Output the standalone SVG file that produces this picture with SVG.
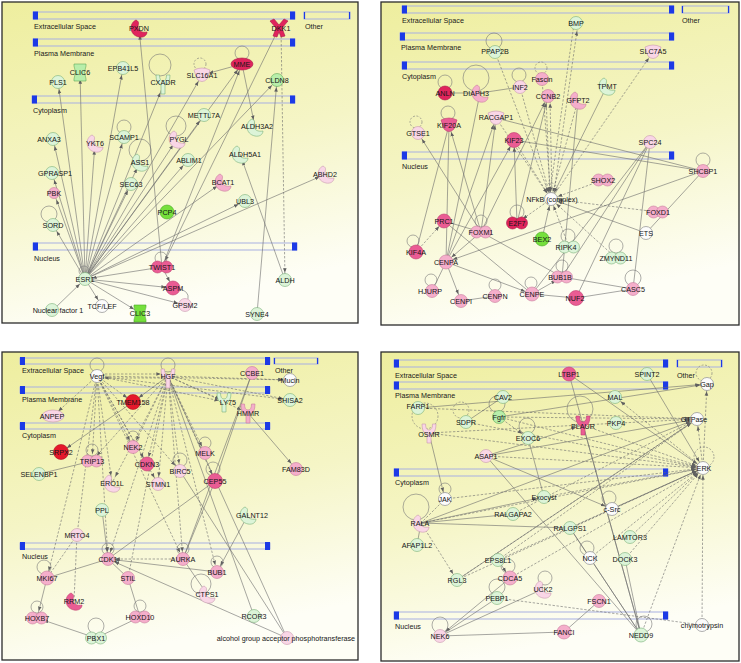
<svg xmlns="http://www.w3.org/2000/svg" xmlns:xlink="http://www.w3.org/1999/xlink" width="741" height="663" viewBox="0 0 741 663">
<defs>
<linearGradient id="bg" x1="0" y1="0" x2="0.25" y2="1">
<stop offset="0" stop-color="#eeee9e"/><stop offset="0.55" stop-color="#f5f5c6"/><stop offset="1" stop-color="#fefef6"/>
</linearGradient>
<marker id="ar" viewBox="0 0 10 10" refX="26" refY="5" markerWidth="4.5" markerHeight="4.5" markerUnits="userSpaceOnUse" orient="auto"><path d="M0,1L10,5L0,9z" fill="#606060"/></marker>
<path id="cres" d="M-3,-8 C-10,-5 -10,7 0,9 C5,10 8,7 8,4 C3,5 -1,3 -1,-1 C-1,-4 1,-6 -3,-8 Z"/>
<path id="cyl" d="M-6,-8 H6 V-6 Q3,0 6,7 V9 H-6 V7 Q-3,0 -6,-6 Z"/>
<path id="rec" d="M-7,-9 H-3.5 Q-3.5,-3 0,-3 Q3.5,-3 3.5,-9 H7 Q7,0 2,1 V10 H-2 V1 Q-7,0 -7,-9 Z"/>
<path id="trans" d="M-8,-5 Q0,-9 8,-5 L5,4 Q0,9 -5,4 Z"/>
<g id="dbl"><circle cx="-4.5" cy="0" r="6"/><circle cx="4.5" cy="0" r="6"/></g>
<path id="dkk" d="M-9,-7 L-5,-9 L0,-3 L5,-9 L9,-7 L3,0 L6,8 L2,9 L0,4 L-2,9 L-6,8 L-3,0 Z"/>
</defs>
<style>
.pan{fill:url(#bg);stroke:#2b2b2b;stroke-width:1.3}
.bar{fill:none;stroke:#a7afe2;stroke-width:1}
.cap{fill:#1c3ae6}
.oth{stroke:#1c3ae6;stroke-width:1.2}
.cl{font-family:"Liberation Sans",Arial,sans-serif;font-size:7.2px;fill:#1a1a1a}
.n{font-family:"Liberation Sans",Arial,sans-serif;font-size:7.2px;fill:#151515;text-anchor:middle}
.e{stroke:#6c6c6c;stroke-width:0.6;fill:none}
.d{stroke:#6c6c6c;stroke-width:0.6;fill:none;stroke-dasharray:2.4 1.6}
.a{marker-end:url(#ar)}
.lo{stroke:#777;stroke-width:0.6;fill:none}
.ld{stroke:#777;stroke-width:0.6;fill:none;stroke-dasharray:2 1.5}
.R{fill:#e5192b;stroke:#b01020;stroke-width:.6}
.M{fill:#e0245c;stroke:#a81848;stroke-width:.6}
.D{fill:#ea5c94;stroke:#c0406e;stroke-width:.6}
.P{fill:#f5aecb;stroke:#c87c9c;stroke-width:.6}
.L{fill:#f9d6e6;stroke:#c898ae;stroke-width:.6}
.G{fill:#76e03c;stroke:#48a826;stroke-width:.6}
.H{fill:#b8eeaa;stroke:#5ea858;stroke-width:.6}
.Q{fill:#dcf4d8;stroke:#78b078;stroke-width:.6}
.W{fill:#fcfcfc;stroke:#9a9a9a;stroke-width:.8}
</style>

<!-- Panels and compartments -->
<g id="panels">
<rect class="pan" x="2" y="2" width="356" height="321"/>
<rect class="pan" x="381" y="2" width="358" height="323"/>
<rect class="pan" x="2" y="352" width="356" height="308"/>
<rect class="pan" x="381" y="352" width="358" height="309"/>
</g>
<g id="compartments">
<!-- P1 -->
<rect class="bar" x="33" y="12" width="262" height="7"/><rect class="cap" x="33" y="11.5" width="5" height="8"/><rect class="cap" x="290" y="11.5" width="5" height="8"/>
<text class="cl" x="34" y="28.5">Extracellular Space</text>
<rect class="bar" x="304" y="12" width="46" height="7"/><line class="oth" x1="304.5" y1="12" x2="304.5" y2="19"/><line class="oth" x1="349.5" y1="12" x2="349.5" y2="19"/>
<text class="cl" x="305" y="28.5">Other</text>
<rect class="bar" x="33" y="39" width="262" height="7"/><rect class="cap" x="33" y="38.5" width="5" height="8"/><rect class="cap" x="290" y="38.5" width="5" height="8"/>
<text class="cl" x="34" y="55.5">Plasma Membrane</text>
<rect class="bar" x="32" y="96" width="263" height="7"/><rect class="cap" x="32" y="95.5" width="5" height="8"/><rect class="cap" x="290" y="95.5" width="5" height="8"/>
<text class="cl" x="33" y="112.5">Cytoplasm</text>
<rect class="bar" x="33" y="243" width="264" height="7"/><rect class="cap" x="33" y="242.5" width="5" height="8"/><rect class="cap" x="292" y="242.5" width="5" height="8"/>
<text class="cl" x="34" y="260.5">Nucleus</text>
<!-- P2 -->
<rect class="bar" x="402" y="6" width="272" height="7"/><rect class="cap" x="402" y="5.5" width="5" height="8"/><rect class="cap" x="669" y="5.5" width="5" height="8"/>
<text class="cl" x="402" y="23">Extracellular Space</text>
<rect class="bar" x="682" y="6" width="47" height="7"/><line class="oth" x1="682.5" y1="6" x2="682.5" y2="13"/><line class="oth" x1="728.5" y1="6" x2="728.5" y2="13"/>
<text class="cl" x="682" y="23">Other</text>
<rect class="bar" x="400" y="33" width="274" height="7"/><rect class="cap" x="400" y="32.5" width="5" height="8"/><rect class="cap" x="669" y="32.5" width="5" height="8"/>
<text class="cl" x="401" y="50">Plasma Membrane</text>
<rect class="bar" x="402" y="62" width="272" height="7"/><rect class="cap" x="402" y="61.5" width="5" height="8"/><rect class="cap" x="669" y="61.5" width="5" height="8"/>
<text class="cl" x="402" y="78.5">Cytoplasm</text>
<rect class="bar" x="402" y="152" width="272" height="7"/><rect class="cap" x="402" y="151.5" width="5" height="8"/><rect class="cap" x="669" y="151.5" width="5" height="8"/>
<text class="cl" x="402" y="168.5">Nucleus</text>
<!-- P3 -->
<rect class="bar" x="20" y="358" width="250" height="6"/><rect class="cap" x="20" y="357" width="5" height="8"/><rect class="cap" x="265" y="357" width="5" height="8"/>
<text class="cl" x="22" y="373">Extracellular Space</text>
<rect class="bar" x="274" y="358" width="44" height="6"/><line class="oth" x1="274.5" y1="358" x2="274.5" y2="364"/><line class="oth" x1="317.5" y1="358" x2="317.5" y2="364"/>
<text class="cl" x="275" y="373">Other</text>
<rect class="bar" x="20" y="387" width="250" height="6"/><rect class="cap" x="20" y="386" width="5" height="8"/><rect class="cap" x="265" y="386" width="5" height="8"/>
<text class="cl" x="22" y="401.5">Plasma Membrane</text>
<rect class="bar" x="20" y="423" width="250" height="6"/><rect class="cap" x="20" y="422" width="5" height="8"/><rect class="cap" x="265" y="422" width="5" height="8"/>
<text class="cl" x="22" y="437.5">Cytoplasm</text>
<rect class="bar" x="20" y="543" width="250" height="6"/><rect class="cap" x="20" y="542" width="5" height="8"/><rect class="cap" x="265" y="542" width="5" height="8"/>
<text class="cl" x="22" y="558.5">Nucleus</text>
<!-- P4 -->
<rect class="bar" x="394" y="360" width="274" height="7"/><rect class="cap" x="394" y="359.5" width="5" height="8"/><rect class="cap" x="663" y="359.5" width="5" height="8"/>
<text class="cl" x="395" y="377.5">Extracellular Space</text>
<rect class="bar" x="677" y="360" width="45" height="7"/><line class="oth" x1="677.5" y1="360" x2="677.5" y2="367"/><line class="oth" x1="721.5" y1="360" x2="721.5" y2="367"/>
<text class="cl" x="677" y="377.5">Other</text>
<rect class="bar" x="394" y="382" width="274" height="7"/><rect class="cap" x="394" y="381.5" width="5" height="8"/><rect class="cap" x="663" y="381.5" width="5" height="8"/>
<text class="cl" x="395" y="397.5">Plasma Membrane</text>
<rect class="bar" x="394" y="469" width="274" height="7"/><rect class="cap" x="394" y="468.5" width="5" height="8"/><rect class="cap" x="663" y="468.5" width="5" height="8"/>
<text class="cl" x="395" y="485">Cytoplasm</text>
<rect class="bar" x="394" y="612" width="274" height="7"/><rect class="cap" x="394" y="611.5" width="5" height="8"/><rect class="cap" x="663" y="611.5" width="5" height="8"/>
<text class="cl" x="395" y="628.5">Nucleus</text>
</g>

<g id="connectors">
<!-- Panel 1 -->
<path class="e a" d="M85,279 L58,82"/><path class="e a" d="M85,279 L80,72"/><path class="e a" d="M85,279 L123,68"/>
<path class="e a" d="M85,279 L163,86"/><path class="e a" d="M85,279 L202,75"/><path class="e a" d="M85,279 L242,64"/>
<path class="e a" d="M85,279 L277,80"/><path class="e a" d="M85,279 L204,115"/><path class="e a" d="M85,279 L53,139"/>
<path class="e a" d="M85,279 L95,143"/><path class="e a" d="M85,279 L124,137"/><path class="e a" d="M85,279 L177,139"/>
<path class="e a" d="M85,279 L140,162"/><path class="e a" d="M85,279 L188,160"/><path class="e a" d="M85,279 L52,173"/>
<path class="e a" d="M85,279 L54,193"/><path class="e a" d="M85,279 L131,184"/><path class="e a" d="M85,279 L223,182"/>
<path class="e a" d="M85,279 L326,174"/><path class="e a" d="M85,279 L245,201"/><path class="e a" d="M85,279 L53,225"/>
<path class="e a" d="M85,279 L102,306"/><path class="e a" d="M85,279 L140,313"/><path class="e a" d="M85,279 L185,305"/>
<path class="e a" d="M85,279 L173,288"/><path class="e a" d="M162,267 L85,279"/><path class="e a" d="M53,310 L85,279"/>
<path class="e a" d="M162,267 L139,28"/><path class="e a" d="M162,267 L242,64"/><path class="e a" d="M162,267 L173,288"/>
<path class="e a" d="M279,28 L162,267"/><path class="d a" d="M281,28 L285,280"/>
<path class="e a" d="M242,64 L202,75"/><path class="e a" d="M242,64 L255,127"/>
<path class="e a" d="M285,280 L240,154"/><path class="e a" d="M257,314 L277,80"/>
<path class="e" d="M173,288 Q195,290 185,305"/>
<circle class="lo" cx="160" cy="65" r="11"/><circle class="ld" cx="200" cy="64" r="6"/>
<circle class="lo" cx="242" cy="53" r="7"/><circle class="lo" cx="124" cy="127" r="7"/>
<circle class="lo" cx="176" cy="126" r="10"/><circle class="lo" cx="140" cy="150" r="11"/>
<circle class="lo" cx="49" cy="214" r="8"/><circle class="lo" cx="161" cy="258" r="6"/>
<circle class="lo" cx="84" cy="271" r="5"/>

<!-- Panel 2 -->
<path class="d a" d="M574,24 L549,199"/><path class="d a" d="M553,199 L578,24"/>
<path class="d a" d="M495,52 L551,199"/><path class="d a" d="M520,87 L551,199"/>
<path class="d a" d="M542,79 L551,199"/><path class="d a" d="M546,96 L550,199"/><path class="d a" d="M552,199 L550,96"/>
<path class="d a" d="M578,100 L551,199"/><path class="e a" d="M607,86 L551,199"/><path class="d a" d="M551,199 L653,52"/>
<path class="d a" d="M603,180 L551,199"/><path class="d a" d="M658,212 L551,199"/><path class="d a" d="M569,247 L551,199"/>
<path class="d a" d="M551,199 L517,223"/><path class="d a" d="M496,118 L551,199"/><path class="d a" d="M514,140 L551,199"/>
<path class="d a" d="M616,258 L551,199"/>
<path class="e a" d="M646,233 L551,199"/><path class="e a" d="M542,239 L551,199"/>
<path class="e" d="M445,93 L480,93"/><path class="e" d="M480,93 L520,87"/>
<path class="e" d="M496,118 L703,171"/><path class="e" d="M514,140 L703,171"/>
<path class="e" d="M650,142 L633,289"/><path class="e" d="M650,142 L576,298"/><path class="e" d="M650,142 L562,277"/><path class="e" d="M650,142 L532,294"/>
<path class="e a" d="M703,171 L446,262"/><path class="e" d="M703,171 L646,233"/>
<path class="d a" d="M416,252 L444,221"/><path class="e" d="M444,221 L532,294"/><path class="e" d="M444,221 L481,232"/>
<path class="e a" d="M481,232 L446,262"/><path class="e" d="M481,232 L562,277"/><path class="e a" d="M481,232 L418,133"/>
<path class="e a" d="M481,232 L496,118"/><path class="e a" d="M481,232 L548,96"/><path class="e a" d="M481,232 L449,125"/>
<path class="e a" d="M517,223 L514,140"/><path class="e a" d="M517,223 L548,96"/>
<path class="e" d="M446,262 L480,93"/><path class="e a" d="M446,262 L496,118"/><path class="e a" d="M446,262 L514,140"/>
<path class="e a" d="M446,262 L461,301"/><path class="e" d="M446,262 L432,291"/><path class="e a" d="M446,262 L532,294"/>
<path class="e" d="M495,296 L461,301"/><path class="e a" d="M532,294 L562,277"/><path class="e" d="M532,294 L576,298"/>
<path class="e" d="M576,298 L633,289"/><path class="e" d="M562,277 L633,289"/><path class="e" d="M449,125 L416,252"/>
<path class="e" d="M449,125 L446,262"/><path class="e" d="M578,100 L562,277"/>
<circle class="lo" cx="494" cy="41" r="8"/><circle class="lo" cx="445" cy="82" r="7"/>
<circle class="lo" cx="476" cy="78" r="13"/><circle class="lo" cx="519" cy="75" r="7"/>
<circle class="ld" cx="541" cy="68" r="6"/><circle class="lo" cx="448" cy="113" r="7"/>
<circle class="ld" cx="416" cy="122" r="6"/><circle class="ld" cx="551" cy="189" r="6"/>
<circle class="lo" cx="481" cy="221" r="6"/><circle class="lo" cx="517" cy="212" r="7"/>
<circle class="lo" cx="568" cy="236" r="7"/><circle class="lo" cx="616" cy="246" r="7"/>
<circle class="lo" cx="413" cy="241" r="6"/><circle class="lo" cx="562" cy="266" r="6"/>
<circle class="lo" cx="531" cy="283" r="6"/><circle class="lo" cx="495" cy="285" r="6"/>
<circle class="lo" cx="431" cy="280" r="6"/><circle class="lo" cx="633" cy="278" r="8"/>
<circle class="lo" cx="703" cy="160" r="7"/>

<!-- Panel 3 -->
<path class="d a" d="M97,376 L53,416"/><path class="d a" d="M97,376 L133,402"/><path class="d a" d="M97,376 L133,447"/>
<path class="d a" d="M97,376 L92,461"/><path class="d a" d="M97,376 L147,464"/><path class="d a" d="M97,376 L158,484"/>
<path class="d a" d="M97,376 L108,559"/><path class="d a" d="M97,376 L183,559"/><path class="d a" d="M97,376 L47,578"/>
<path class="d a" d="M97,376 L180,471"/><path class="d a" d="M97,376 L112,483"/><path class="d a" d="M97,376 L226,402"/>
<path class="d a" d="M97,376 L290,400"/><path class="d a" d="M97,376 L290,380"/><path class="d a" d="M97,374 L168,374"/><path class="d a" d="M168,378 L97,378"/>
<path class="e a" d="M168,376 L133,402"/><path class="d a" d="M168,376 L133,447"/><path class="d a" d="M168,376 L147,464"/>
<path class="d a" d="M168,376 L205,453"/><path class="d a" d="M168,376 L180,471"/><path class="d a" d="M168,376 L158,484"/>
<path class="d a" d="M168,376 L108,559"/><path class="d a" d="M168,376 L183,559"/><path class="d a" d="M168,376 L217,572"/>
<path class="d a" d="M168,376 L226,402"/><path class="d a" d="M168,376 L248,413"/><path class="d a" d="M168,376 L290,380"/>
<path class="d a" d="M168,376 L290,400"/><path class="d a" d="M168,376 L215,481"/><path class="d a" d="M168,376 L112,483"/>
<path class="d a" d="M168,376 L92,461"/>
<path class="e a" d="M133,402 L61,452"/><path class="e" d="M92,461 L39,474"/><path class="e a" d="M248,413 L296,469"/>
<path class="e" d="M252,373 L215,481"/><path class="e" d="M252,373 L183,559"/><path class="e" d="M215,481 L108,559"/>
<path class="e" d="M215,481 L183,559"/><path class="e" d="M108,559 L47,578"/><path class="e" d="M108,559 L128,578"/>
<path class="d a" d="M183,559 L108,559"/><path class="e a" d="M217,572 L108,559"/><path class="e a" d="M102,510 L108,559"/>
<path class="e a" d="M248,515 L217,572"/><path class="d" d="M77,535 L47,578"/><path class="d" d="M77,535 L74,601"/>
<path class="e a" d="M47,578 L37,618"/><path class="e a" d="M96,638 L37,618"/><path class="e" d="M96,638 L140,617"/>
<path class="e" d="M140,617 L128,578"/><path class="e" d="M207,594 L183,559"/><path class="e a" d="M287,638 L108,559"/>
<path class="e" d="M287,638 L168,376"/><path class="e" d="M254,616 L168,376"/><path class="e" d="M287,638 L180,471"/>
<path class="d" d="M128,578 L168,376"/><path class="d" d="M77,535 L97,376"/>
<circle class="lo" cx="97" cy="365" r="7"/><circle class="lo" cx="168" cy="365" r="7"/>
<circle class="lo" cx="133" cy="437" r="6"/><circle class="lo" cx="205" cy="443" r="6"/>
<circle class="lo" cx="92" cy="450" r="6"/><circle class="lo" cx="180" cy="460" r="7"/>
<circle class="lo" cx="213" cy="469" r="7"/><circle class="lo" cx="108" cy="549" r="6"/>
<circle class="lo" cx="183" cy="549" r="6"/><circle class="lo" cx="217" cy="562" r="6"/>
<circle class="lo" cx="44" cy="567" r="7"/><circle class="lo" cx="37" cy="607" r="6"/>
<circle class="lo" cx="140" cy="606" r="6"/><circle class="lo" cx="96" cy="626" r="8"/>
<circle class="lo" cx="201" cy="584" r="10"/>

<!-- Panel 4 -->
<path class="d a" d="M429,433 L703,468"/><path class="d a" d="M499,417 L703,468"/><path class="d a" d="M583,425 L703,468"/>
<path class="d a" d="M486,456 L703,468"/><path class="d a" d="M445,499 L703,468"/><path class="d a" d="M544,497 L703,468"/>
<path class="d a" d="M612,509 L703,468"/><path class="d a" d="M570,528 L703,468"/><path class="d a" d="M630,537 L703,468"/>
<path class="d a" d="M625,559 L703,468"/><path class="d a" d="M590,558 L703,468"/><path class="d a" d="M498,560 L703,468"/>
<path class="d a" d="M510,578 L703,468"/><path class="d a" d="M457,580 L703,468"/><path class="d a" d="M641,635 L703,468"/>
<path class="d a" d="M702,625 L703,468"/><path class="d a" d="M703,468 L707,384"/><path class="d a" d="M703,468 L697,419"/>
<path class="d a" d="M703,468 L615,397"/><path class="e a" d="M647,374 L703,468"/><path class="e a" d="M569,374 L703,468"/>
<path class="d a" d="M421,523 L703,468"/><path class="d a" d="M466,422 L703,468"/>
<path class="d a" d="M418,408 L697,419"/><path class="d a" d="M429,433 L697,419"/><path class="d a" d="M499,417 L697,419"/>
<path class="e a" d="M486,456 L697,419"/><path class="e a" d="M421,523 L697,419"/><path class="d a" d="M457,580 L697,419"/>
<path class="d a" d="M498,560 L697,419"/><path class="d a" d="M513,514 L697,419"/>
<path class="e a" d="M418,408 L707,384"/><path class="e a" d="M499,417 L707,384"/>
<path class="e" d="M503,397 L466,422"/><path class="d a" d="M499,417 L528,438"/><path class="e" d="M528,438 L544,497"/>
<path class="e a" d="M429,433 L445,499"/><path class="d" d="M445,499 L421,523"/><path class="e a" d="M421,523 L544,497"/>
<path class="e" d="M421,523 L513,514"/><path class="e" d="M421,523 L570,528"/><path class="e" d="M421,523 L417,545"/>
<path class="d a" d="M421,523 L457,580"/><path class="e" d="M486,456 L641,635"/><path class="e a" d="M486,456 L583,425"/>
<path class="e a" d="M486,456 L612,509"/><path class="e" d="M543,589 L440,636"/><path class="e" d="M440,636 L564,632"/>
<path class="e" d="M564,632 L599,601"/><path class="e" d="M641,635 L590,558"/><path class="e" d="M641,635 L625,559"/>
<path class="e" d="M641,635 L570,528"/><path class="d" d="M497,598 L702,625"/><path class="e" d="M497,598 L440,636"/>
<path class="e a" d="M510,578 L440,636"/><path class="e a" d="M498,560 L510,578"/><path class="e" d="M590,558 L570,528"/>
<path class="e" d="M583,425 L641,635"/><path class="e" d="M569,374 L641,635"/><path class="e" d="M457,580 L697,419"/>
<circle class="ld" cx="704" cy="373" r="8"/><circle class="ld" cx="461" cy="410" r="8"/>
<circle class="lo" cx="497" cy="404" r="8"/><circle class="lo" cx="580" cy="409" r="13"/>
<circle class="ld" cx="425" cy="416" r="13"/><circle class="lo" cx="527" cy="426" r="8"/>
<circle class="ld" cx="704" cy="457" r="10"/><circle class="lo" cx="445" cy="489" r="6"/>
<circle class="lo" cx="609" cy="498" r="7"/><circle class="lo" cx="416" cy="507" r="13"/>
<circle class="lo" cx="587" cy="548" r="7"/><circle class="lo" cx="508" cy="566" r="7"/>
<circle class="lo" cx="545" cy="578" r="7"/><circle class="lo" cx="497" cy="587" r="8"/>
<circle class="lo" cx="440" cy="625" r="8"/><circle class="lo" cx="644" cy="624" r="8"/>
</g>

<!-- Panel 1 nodes -->
<g id="n1-PXDN"><use href="#cres" class="M" x="139" y="28"/><text class="n" x="139" y="30.5">PXDN</text></g>
<g id="n1-DKK1"><use href="#dkk" class="M" x="279" y="28"/><text class="n" x="281" y="30.5">DKK1</text></g>
<g id="n1-PLS1"><circle class="Q" cx="58" cy="82" r="6.5"/><text class="n" x="58" y="84.5">PLS1</text></g>
<g id="n1-CLIC6"><use href="#cyl" class="H" x="80" y="72"/><text class="n" x="80" y="74.5">CLIC6</text></g>
<g id="n1-EPB41L5"><circle class="Q" cx="123" cy="68" r="6.5"/><text class="n" x="123" y="70.5">EPB41L5</text></g>
<g id="n1-CXADR"><use href="#rec" class="Q" x="163" y="84"/><text class="n" x="163" y="84.5">CXADR</text></g>
<g id="n1-SLC16A1"><use href="#trans" class="L" x="202" y="75"/><text class="n" x="202" y="77.5">SLC16A1</text></g>
<g id="n1-MME"><ellipse class="M" cx="242" cy="64" rx="11" ry="6"/><text class="n" x="242" y="66.5">MME</text></g>
<g id="n1-CLDN8"><circle class="H" cx="277" cy="80" r="6.5"/><text class="n" x="277" y="82.5">CLDN8</text></g>
<g id="n1-METTL7A"><circle class="Q" cx="204" cy="115" r="6.5"/><text class="n" x="204" y="117.5">METTL7A</text></g>
<g id="n1-ANXA3"><circle class="Q" cx="53" cy="139" r="6.5"/><text class="n" x="49" y="142">ANXA3</text></g>
<g id="n1-YKT6"><use href="#cres" class="L" x="95" y="143"/><text class="n" x="95" y="145.5">YKT6</text></g>
<g id="n1-SCAMP1"><circle class="Q" cx="124" cy="137" r="6.5"/><text class="n" x="124" y="139.5">SCAMP1</text></g>
<g id="n1-PYGL"><use href="#cres" class="L" x="177" y="139"/><text class="n" x="179" y="141.5">PYGL</text></g>
<g id="n1-ALDH3A2"><use href="#cres" class="Q" x="255" y="127"/><text class="n" x="257" y="128.5">ALDH3A2</text></g>
<g id="n1-ASS1"><use href="#cres" class="Q" x="140" y="162"/><text class="n" x="140" y="164.5">ASS1</text></g>
<g id="n1-ABLIM1"><circle class="Q" cx="188" cy="160" r="6.5"/><text class="n" x="189" y="162.5">ABLIM1</text></g>
<g id="n1-ALDH5A1"><use href="#cres" class="Q" x="240" y="154"/><text class="n" x="245" y="156.5">ALDH5A1</text></g>
<g id="n1-GPRASP1"><circle class="Q" cx="52" cy="173" r="6.5"/><text class="n" x="55" y="175.5">GPRASP1</text></g>
<g id="n1-PBK"><circle class="P" cx="54" cy="193" r="5.5"/><text class="n" x="54" y="195.5">PBK</text></g>
<g id="n1-SEC63"><circle class="Q" cx="131" cy="184" r="6.5"/><text class="n" x="131" y="186.5">SEC63</text></g>
<g id="n1-BCAT1"><use href="#cres" class="P" x="223" y="182"/><text class="n" x="223" y="184.5">BCAT1</text></g>
<g id="n1-ABHD2"><use href="#cres" class="L" x="326" y="174"/><text class="n" x="325" y="176.5">ABHD2</text></g>
<g id="n1-UBL3"><circle class="Q" cx="245" cy="201" r="6.5"/><text class="n" x="245" y="203.5">UBL3</text></g>
<g id="n1-PCP4"><circle class="G" cx="167" cy="212" r="7"/><text class="n" x="167" y="214.5">PCP4</text></g>
<g id="n1-SORD"><circle class="Q" cx="53" cy="225" r="6.5"/><text class="n" x="53" y="227.5">SORD</text></g>
<g id="n1-TWIST1"><use href="#dbl" class="D" x="162" y="267"/><text class="n" x="162" y="269.5">TWIST1</text></g>
<g id="n1-ESR1"><circle class="Q" cx="85" cy="279" r="6.5"/><text class="n" x="85" y="281.5">ESR1</text></g>
<g id="n1-ALDH"><circle class="Q" cx="285" cy="280" r="6.5"/><text class="n" x="285" y="282.5">ALDH</text></g>
<g id="n1-ASPM"><circle class="D" cx="173" cy="288" r="7"/><text class="n" x="173" y="290.5">ASPM</text></g>
<g id="n1-GPSM2"><circle class="L" cx="185" cy="305" r="6.5"/><text class="n" x="185" y="307.5">GPSM2</text></g>
<g id="n1-NF1"><circle class="Q" cx="52" cy="310" r="6.5"/><text class="n" x="58" y="313">Nuclear factor 1</text></g>
<g id="n1-TCFLEF"><circle class="W" cx="102" cy="306" r="6.5"/><text class="n" x="102" y="308.5">TCF/LEF</text></g>
<g id="n1-CLIC3"><use href="#cyl" class="G" x="140" y="313"/><text class="n" x="140" y="315.5">CLIC3</text></g>
<g id="n1-SYNE4"><circle class="Q" cx="257" cy="314" r="6.5"/><text class="n" x="257" y="316.5">SYNE4</text></g>

<!-- Panel 2 nodes -->
<g id="n2-BMP"><circle class="Q" cx="576" cy="23" r="6.5"/><text class="n" x="576" y="25.5">BMP</text></g>
<g id="n2-PPAP2B"><circle class="Q" cx="495" cy="52" r="6.5"/><text class="n" x="495" y="53.5">PPAP2B</text></g>
<g id="n2-SLC7A5"><use href="#trans" class="L" x="653" y="52"/><text class="n" x="653" y="53.5">SLC7A5</text></g>
<g id="n2-ANLN"><circle class="M" cx="445" cy="93" r="7"/><text class="n" x="445" y="95.5">ANLN</text></g>
<g id="n2-DIAPH3"><use href="#cres" class="P" x="480" y="93"/><text class="n" x="476" y="95.5">DIAPH3</text></g>
<g id="n2-INF2"><circle class="L" cx="520" cy="87" r="6.5"/><text class="n" x="520" y="89.5">INF2</text></g>
<g id="n2-Fascin"><circle class="P" cx="542" cy="79" r="6.5"/><text class="n" x="542" y="81.5">Fascin</text></g>
<g id="n2-CCNB2"><circle class="P" cx="548" cy="96" r="6.5"/><text class="n" x="548" y="98.5">CCNB2</text></g>
<g id="n2-GFPT2"><use href="#cres" class="P" x="578" y="100"/><text class="n" x="578" y="102.5">GFPT2</text></g>
<g id="n2-TPMT"><use href="#cres" class="Q" x="607" y="86"/><text class="n" x="607" y="88.5">TPMT</text></g>
<g id="n2-RACGAP1"><use href="#trans" class="L" x="496" y="118"/><text class="n" x="496" y="120">RACGAP1</text></g>
<g id="n2-KIF20A"><use href="#trans" class="D" x="449" y="125"/><text class="n" x="449" y="127.5">KIF20A</text></g>
<g id="n2-GTSE1"><circle class="L" cx="418" cy="133" r="6.5"/><text class="n" x="418" y="135.5">GTSE1</text></g>
<g id="n2-KIF23"><circle class="D" cx="514" cy="140" r="7.5"/><text class="n" x="514" y="142.5">KIF23</text></g>
<g id="n2-SPC24"><circle class="L" cx="650" cy="142" r="6.5"/><text class="n" x="650" y="144.5">SPC24</text></g>
<g id="n2-SHCBP1"><circle class="P" cx="703" cy="171" r="6.5"/><text class="n" x="703" y="173.5">SHCBP1</text></g>
<g id="n2-SHOX2"><use href="#dbl" class="P" x="603" y="180"/><text class="n" x="603" y="182.5">SHOX2</text></g>
<g id="n2-NFkB"><circle class="W" cx="551" cy="199" r="6.5"/><text class="n" x="552" y="202">NFkB (complex)</text></g>
<g id="n2-FOXD1"><use href="#dbl" class="P" x="658" y="212"/><text class="n" x="658" y="214.5">FOXD1</text></g>
<g id="n2-PRC1"><circle class="D" cx="444" cy="221" r="7"/><text class="n" x="444" y="223.5">PRC1</text></g>
<g id="n2-E2F7"><use href="#dbl" class="M" x="517" y="223"/><text class="n" x="517" y="225.5">E2F7</text></g>
<g id="n2-FOXM1"><use href="#dbl" class="P" x="481" y="232"/><text class="n" x="481" y="234.5">FOXM1</text></g>
<g id="n2-ETS"><circle class="W" cx="646" cy="233" r="6.5"/><text class="n" x="646" y="235.5">ETS</text></g>
<g id="n2-BEX2"><circle class="G" cx="542" cy="239" r="7"/><text class="n" x="542" y="241.5">BEX2</text></g>
<g id="n2-RIPK4"><use href="#dbl" class="Q" x="569" y="247"/><text class="n" x="566" y="250">RIPK4</text></g>
<g id="n2-KIF4A"><circle class="D" cx="416" cy="252" r="7"/><text class="n" x="416" y="254.5">KIF4A</text></g>
<g id="n2-CENPA"><circle class="P" cx="446" cy="262" r="7"/><text class="n" x="446" y="264.5">CENPA</text></g>
<g id="n2-ZMYND11"><use href="#dbl" class="Q" x="616" y="258"/><text class="n" x="616" y="260.5">ZMYND11</text></g>
<g id="n2-BUB1B"><use href="#dbl" class="P" x="562" y="277"/><text class="n" x="560" y="279.5">BUB1B</text></g>
<g id="n2-HJURP"><circle class="P" cx="432" cy="291" r="6.5"/><text class="n" x="430" y="293.5">HJURP</text></g>
<g id="n2-CASC5"><circle class="P" cx="633" cy="289" r="6.5"/><text class="n" x="633" y="291.5">CASC5</text></g>
<g id="n2-CENPE"><circle class="P" cx="532" cy="294" r="7"/><text class="n" x="532" y="296.5">CENPE</text></g>
<g id="n2-CENPI"><circle class="P" cx="461" cy="301" r="6.5"/><text class="n" x="461" y="303.5">CENPI</text></g>
<g id="n2-CENPN"><circle class="P" cx="495" cy="296" r="6.5"/><text class="n" x="495" y="298.5">CENPN</text></g>
<g id="n2-NUF2"><circle class="D" cx="576" cy="298" r="7.5"/><text class="n" x="575" y="300.5">NUF2</text></g>

<!-- Panel 3 nodes -->
<g id="n3-Vegf"><circle class="W" cx="97" cy="376" r="6.5"/><text class="n" x="97" y="378.5">Vegf</text></g>
<g id="n3-HGF"><use href="#rec" class="L" x="168" y="378"/><text class="n" x="168" y="378.5">HGF</text></g>
<g id="n3-CCBE1"><circle class="P" cx="252" cy="373" r="6.5"/><text class="n" x="252" y="375.5">CCBE1</text></g>
<g id="n3-Mucin"><circle class="W" cx="290" cy="380" r="6.5"/><text class="n" x="290" y="382.5">Mucin</text></g>
<g id="n3-TMEM158"><circle class="R" cx="133" cy="402" r="7.5"/><text class="n" x="133" y="404.5">TMEM158</text></g>
<g id="n3-LY75"><use href="#rec" class="Q" x="224" y="402"/><text class="n" x="228" y="404.5">LY75</text></g>
<g id="n3-SHISA2"><circle class="Q" cx="290" cy="400" r="6.5"/><text class="n" x="290" y="402.5">SHISA2</text></g>
<g id="n3-ANPEP"><ellipse class="L" cx="53" cy="416" rx="11" ry="6"/><text class="n" x="52" y="418.5">ANPEP</text></g>
<g id="n3-HMMR"><use href="#rec" class="P" x="248" y="413"/><text class="n" x="248" y="415.5">HMMR</text></g>
<g id="n3-NEK2"><circle class="P" cx="133" cy="447" r="6.5"/><text class="n" x="133" y="449.5">NEK2</text></g>
<g id="n3-MELK"><circle class="P" cx="205" cy="453" r="6.5"/><text class="n" x="205" y="455.5">MELK</text></g>
<g id="n3-SRPX2"><circle class="R" cx="61" cy="452" r="7.5"/><text class="n" x="61" y="454.5">SRPX2</text></g>
<g id="n3-TRIP13"><use href="#dbl" class="P" x="92" y="461"/><text class="n" x="92" y="463.5">TRIP13</text></g>
<g id="n3-CDKN3"><circle class="D" cx="147" cy="464" r="7"/><text class="n" x="147" y="466.5">CDKN3</text></g>
<g id="n3-BIRC5"><circle class="L" cx="180" cy="471" r="6.5"/><text class="n" x="180" y="473.5">BIRC5</text></g>
<g id="n3-FAM83D"><circle class="P" cx="296" cy="469" r="6.5"/><text class="n" x="296" y="471.5">FAM83D</text></g>
<g id="n3-SELENBP1"><circle class="Q" cx="39" cy="474" r="6.5"/><text class="n" x="39" y="476.5">SELENBP1</text></g>
<g id="n3-ERO1L"><use href="#cres" class="L" x="112" y="483"/><text class="n" x="112" y="485.5">ERO1L</text></g>
<g id="n3-STMN1"><circle class="L" cx="158" cy="484" r="6.5"/><text class="n" x="158" y="486.5">STMN1</text></g>
<g id="n3-CEP55"><circle class="D" cx="215" cy="481" r="7.5"/><text class="n" x="215" y="483.5">CEP55</text></g>
<g id="n3-PPL"><circle class="Q" cx="102" cy="510" r="6.5"/><text class="n" x="102" y="512.5">PPL</text></g>
<g id="n3-GALNT12"><use href="#cres" class="Q" x="248" y="515"/><text class="n" x="252" y="517.5">GALNT12</text></g>
<g id="n3-MRTO4"><circle class="L" cx="77" cy="535" r="6.5"/><text class="n" x="77" y="537.5">MRTO4</text></g>
<g id="n3-CDK1"><circle class="P" cx="108" cy="559" r="6.5"/><text class="n" x="108" y="561.5">CDK1</text></g>
<g id="n3-AURKA"><circle class="P" cx="183" cy="559" r="6.5"/><text class="n" x="183" y="561.5">AURKA</text></g>
<g id="n3-BUB1"><circle class="P" cx="217" cy="572" r="6.5"/><text class="n" x="217" y="574.5">BUB1</text></g>
<g id="n3-MKI67"><circle class="P" cx="47" cy="578" r="7"/><text class="n" x="47" y="580.5">MKI67</text></g>
<g id="n3-STIL"><circle class="P" cx="128" cy="578" r="6.5"/><text class="n" x="128" y="580.5">STIL</text></g>
<g id="n3-CTPS1"><use href="#cres" class="L" x="207" y="594"/><text class="n" x="207" y="596.5">CTPS1</text></g>
<g id="n3-RRM2"><use href="#cres" class="D" x="74" y="601"/><text class="n" x="74" y="603.5">RRM2</text></g>
<g id="n3-HOXB7"><use href="#dbl" class="P" x="37" y="618"/><text class="n" x="37" y="620.5">HOXB7</text></g>
<g id="n3-HOXD10"><use href="#dbl" class="P" x="140" y="617"/><text class="n" x="140" y="619.5">HOXD10</text></g>
<g id="n3-RCOR3"><circle class="Q" cx="254" cy="616" r="6.5"/><text class="n" x="254" y="618.5">RCOR3</text></g>
<g id="n3-PBX1"><use href="#dbl" class="Q" x="96" y="638"/><text class="n" x="96" y="640.5">PBX1</text></g>
<g id="n3-AGAP"><circle class="L" cx="287" cy="638" r="6.5"/><text class="n" x="286" y="640.5">alcohol group acceptor phosphotransferase</text></g>

<!-- Panel 4 nodes -->
<g id="n4-LTBP1"><circle class="D" cx="569" cy="374" r="7"/><text class="n" x="569" y="376.5">LTBP1</text></g>
<g id="n4-SPINT2"><circle class="Q" cx="647" cy="374" r="6.5"/><text class="n" x="647" y="376.5">SPINT2</text></g>
<g id="n4-Gap"><circle class="W" cx="707" cy="384" r="6.5"/><text class="n" x="707" y="386.5">Gap</text></g>
<g id="n4-FARP1"><circle class="Q" cx="418" cy="408" r="6.5"/><text class="n" x="418" y="408.5">FARP1</text></g>
<g id="n4-CAV2"><circle class="Q" cx="503" cy="397" r="6.5"/><text class="n" x="503" y="399.5">CAV2</text></g>
<g id="n4-MAL"><circle class="Q" cx="615" cy="397" r="6.5"/><text class="n" x="615" y="399.5">MAL</text></g>
<g id="n4-SDPR"><circle class="Q" cx="466" cy="422" r="6.5"/><text class="n" x="466" y="424.5">SDPR</text></g>
<g id="n4-Fgfr"><circle class="H" cx="499" cy="417" r="6.5"/><text class="n" x="499" y="419.5">Fgfr</text></g>
<g id="n4-PLAUR"><use href="#rec" class="D" x="583" y="425"/><text class="n" x="583" y="429">PLAUR</text></g>
<g id="n4-PKP4"><circle class="Q" cx="616" cy="423" r="6.5"/><text class="n" x="616" y="425.5">PKP4</text></g>
<g id="n4-GTPase"><circle class="W" cx="697" cy="419" r="6.5"/><text class="n" x="694" y="421.5">GTPase</text></g>
<g id="n4-OSMR"><use href="#rec" class="L" x="429" y="433"/><text class="n" x="429" y="437">OSMR</text></g>
<g id="n4-EXOC6"><circle class="Q" cx="528" cy="438" r="6.5"/><text class="n" x="528" y="440.5">EXOC6</text></g>
<g id="n4-ASAP1"><circle class="L" cx="486" cy="456" r="6.5"/><text class="n" x="486" y="458.5">ASAP1</text></g>
<g id="n4-ERK"><circle class="W" cx="703" cy="468" r="6.5"/><text class="n" x="704" y="470.5">ERK</text></g>
<g id="n4-JAK"><circle class="W" cx="445" cy="499" r="6.5"/><text class="n" x="445" y="501.5">JAK</text></g>
<g id="n4-Exocyst"><circle class="Q" cx="544" cy="497" r="6.5"/><text class="n" x="544" y="500">Exocyst</text></g>
<g id="n4-cSrc"><circle class="W" cx="612" cy="509" r="6.5"/><text class="n" x="612" y="511.5">c-Src</text></g>
<g id="n4-RALGAPA2"><circle class="Q" cx="513" cy="514" r="6.5"/><text class="n" x="513" y="516.5">RALGAPA2</text></g>
<g id="n4-RALA"><use href="#cres" class="L" x="421" y="523"/><text class="n" x="420" y="525.5">RALA</text></g>
<g id="n4-RALGPS1"><circle class="Q" cx="570" cy="528" r="6.5"/><text class="n" x="570" y="530.5">RALGPS1</text></g>
<g id="n4-LAMTOR3"><circle class="Q" cx="630" cy="537" r="6.5"/><text class="n" x="630" y="539.5">LAMTOR3</text></g>
<g id="n4-AFAP1L2"><circle class="Q" cx="417" cy="545" r="6.5"/><text class="n" x="417" y="547.5">AFAP1L2</text></g>
<g id="n4-EPS8L1"><circle class="Q" cx="498" cy="560" r="6.5"/><text class="n" x="498" y="562.5">EPS8L1</text></g>
<g id="n4-NCK"><circle class="W" cx="590" cy="558" r="6.5"/><text class="n" x="590" y="560.5">NCK</text></g>
<g id="n4-DOCK3"><circle class="Q" cx="625" cy="559" r="6.5"/><text class="n" x="625" y="561.5">DOCK3</text></g>
<g id="n4-RGL3"><circle class="Q" cx="457" cy="580" r="6.5"/><text class="n" x="457" y="582.5">RGL3</text></g>
<g id="n4-CDCA5"><circle class="P" cx="510" cy="578" r="7"/><text class="n" x="510" y="580.5">CDCA5</text></g>
<g id="n4-UCK2"><use href="#cres" class="L" x="543" y="589"/><text class="n" x="543" y="591.5">UCK2</text></g>
<g id="n4-PEBP1"><circle class="Q" cx="497" cy="598" r="6.5"/><text class="n" x="497" y="600.5">PEBP1</text></g>
<g id="n4-FSCN1"><circle class="P" cx="599" cy="601" r="6.5"/><text class="n" x="599" y="603.5">FSCN1</text></g>
<g id="n4-NEK6"><circle class="L" cx="440" cy="636" r="6.5"/><text class="n" x="440" y="638.5">NEK6</text></g>
<g id="n4-FANCI"><circle class="P" cx="564" cy="632" r="7"/><text class="n" x="564" y="634.5">FANCI</text></g>
<g id="n4-NEDD9"><circle class="Q" cx="641" cy="635" r="7"/><text class="n" x="641" y="637.5">NEDD9</text></g>
<g id="n4-chymotrypsin"><circle class="W" cx="702" cy="625" r="6.5"/><text class="n" x="702" y="627.5">chymotrypsin</text></g>
</svg>
